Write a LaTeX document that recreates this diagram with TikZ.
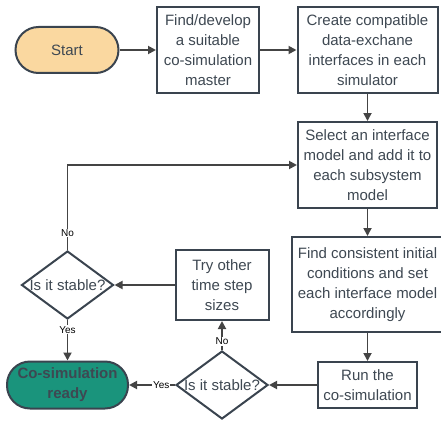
\documentclass[tikz,border=0pt]{standalone}
\usepackage{fontspec}
\setmainfont{Liberation Sans}
\usetikzlibrary{arrows.meta,shapes.geometric}
\definecolor{edgegray}{RGB}{58,68,79}
\definecolor{txtgray}{RGB}{62,72,82}
\definecolor{linegray}{RGB}{68,68,68}
\definecolor{startfill}{RGB}{250,216,160}
\definecolor{readyfill}{RGB}{26,148,124}

\begin{document}
\begin{tikzpicture}[>={Triangle[length=8pt,width=8pt]},x=1pt,y=1pt]
  \tikzstyle{task}=[rectangle,draw=edgegray,fill=white,text=txtgray,line width=2pt,
                    align=center,inner sep=2pt,font=\fontsize{15}{20}\selectfont]
  \tikzstyle{term}=[task,rounded corners=23pt,minimum height=46pt]
  \tikzstyle{check}=[diamond,draw=edgegray,fill=white,text=txtgray,line width=2pt,
                     minimum width=92pt,minimum height=68pt,inner sep=0pt,
                     font=\fontsize{15}{20}\selectfont]
  \tikzstyle{answer}=[fill=white,text=black,inner sep=1pt,font=\fontsize{10}{12}\selectfont]
  \tikzstyle{flow}=[draw=linegray,line width=1.8pt,->]

  \useasboundingbox (0,0) rectangle (441,-425);

  \node[term,fill=startfill,minimum width=103pt] (start) at (67,-50) {Start};
  \node[task,minimum width=102pt,minimum height=86pt] (master) [node distance=141pt,right of=start] {Find/develop\\a suitable\\co-simulation\\master};
  \node[task,minimum width=140pt,minimum height=86pt] (iface) [node distance=159.5pt,right of=master] {Create compatible\\data-exchane\\interfaces in each\\simulator};
  \node[task,minimum width=139pt,minimum height=86pt] (select) [node distance=115pt,below of=iface] {Select an interface\\model and add it to\\each subsystem\\model};
  \node[task,minimum width=151pt,minimum height=95pt] (init) [node distance=119.5pt,below of=select] {Find consistent initial\\conditions and set\\each interface model\\accordingly};
  \node[task,minimum width=99pt,minimum height=46pt] (run) [node distance=100.5pt,below of=init] {Run the\\co-simulation};
  \node[check] (stab2) [node distance=145.5pt,left of=run] {\makebox[0pt]{Is it stable?}};
  \node[term,fill=readyfill,minimum width=121pt,minimum height=47pt,font=\fontsize{15}{20}\selectfont\bfseries] (ready) [node distance=154.5pt,left of=stab2] {Co-simulation\\ready};
  \node[task,minimum width=93pt,minimum height=70pt] (retry) [node distance=100pt,above of=stab2] {Try other\\time step\\sizes};
  \node[check] (stab1) [node distance=154.5pt,left of=retry] {\makebox[0pt]{Is it stable?}};

  \draw[flow] (start) -- (master);
  \draw[flow] (master) -- (iface);
  \draw[flow] (iface) -- (select);
  \draw[flow] (select) -- (init);
  \draw[flow] (init) -- (run);
  \draw[flow] (run) -- (stab2);
  \draw[flow] (stab2) -- node[answer,pos=0.3] {Yes} (ready);
  \draw[flow] (stab2) -- node[answer,pos=0.3] {No} (retry);
  \draw[flow] (retry) -- (stab1);
  \draw[flow] (stab1) -- node[answer,pos=0.24] {Yes} (ready);
  \draw[flow] (stab1.north) |- node[answer,pos=0.1] {No} (select.west);

\end{tikzpicture}
\end{document}
